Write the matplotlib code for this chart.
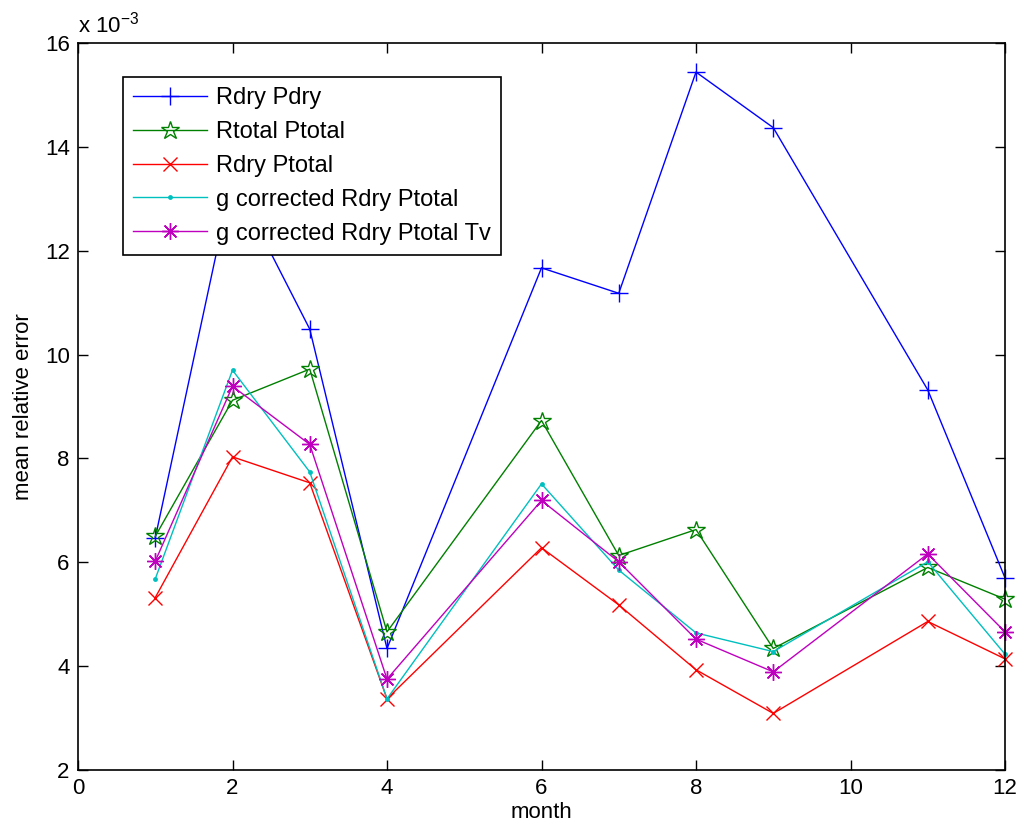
import matplotlib
matplotlib.use("Agg")
import matplotlib.pyplot as plt

plt.rcParams['font.family'] = ['Liberation Sans', 'DejaVu Sans']

months = [1, 2, 3, 4, 6, 7, 8, 9, 11, 12]

# values in units of 1e-3
rdry_pdry = [6.47, 13.4, 10.49, 4.34, 11.67, 11.18, 15.44, 14.37, 9.32, 5.70]
rtotal_ptotal = [6.5, 9.12, 9.72, 4.66, 8.73, 6.13, 6.63, 4.34, 5.90, 5.29]
rdry_ptotal = [5.32, 8.03, 7.53, 3.37, 6.28, 5.18, 3.93, 3.09, 4.86, 4.14]
g_rdry_ptotal = [5.68, 9.70, 7.74, 3.37, 7.51, 5.85, 4.64, 4.28, 6.01, 4.23]
g_rdry_ptotal_tv = [6.02, 9.39, 8.27, 3.75, 7.19, 6.01, 4.52, 3.89, 6.16, 4.66]

labels = ['Rdry Pdry', 'Rtotal Ptotal', 'Rdry Ptotal',
          'g corrected Rdry Ptotal', 'g corrected Rdry Ptotal Tv']

xticks = [0, 2, 4, 6, 8, 10, 12]
yticks = [2, 4, 6, 8, 10, 12, 14, 16]

fig = plt.figure(figsize=(10.24, 8.33), dpi=100)
ax = fig.add_axes([78/1024, 1 - 770/833, (1005-78)/1024, (770-43)/833])

lw = 1.0
common = dict(lw=lw, clip_on=False)
ax.plot(months, rdry_pdry, color=(0, 0, 1), marker='+', ms=13, mew=1.0, label=labels[0], **common)
ax.plot(months, rtotal_ptotal, color=(0, 0.5, 0), marker='*', ms=13.5, mew=1.0,
        mfc='none', label=labels[1], **common)
ax.plot(months, rdry_ptotal, color=(1, 0, 0), marker='x', ms=10, mew=1.0, label=labels[2], **common)
ax.plot(months, g_rdry_ptotal, color=(0, 0.75, 0.75), marker='o', ms=3.5, mew=0, label=labels[3], **common)
ax.plot(months, g_rdry_ptotal_tv, color=(0.75, 0, 0.75), marker=(8, 2, 0), ms=12, mew=1.0,
        label=labels[4], **common)

ax.set_xlim(0, 12)
ax.set_ylim(2, 16)
ax.set_xticks(xticks)
ax.set_yticks(yticks)
ax.tick_params(direction='in', length=7, width=1, top=True, right=True, labelsize=16, pad=6)
for s in ax.spines.values():
    s.set_linewidth(1.2)

ax.set_xlabel('month', fontsize=16, labelpad=2)
ax.set_ylabel('mean relative error', fontsize=16, labelpad=8)

ax.text(0.0, 1.008, r'x 10$^{\mathregular{-3}}$', transform=ax.transAxes,
        fontsize=16, ha='left', va='bottom')

leg = ax.legend(loc='upper left', bbox_to_anchor=(122.7/1024, 1 - 76.7/833),
                bbox_transform=fig.transFigure, borderaxespad=0, fontsize=17,
                fancybox=False, framealpha=1, edgecolor='black',
                handlelength=3.1, handletextpad=0.4, labelspacing=0.5,
                borderpad=0.45)
leg.get_frame().set_linewidth(1.2)

fig.savefig('out.png', dpi=100)
